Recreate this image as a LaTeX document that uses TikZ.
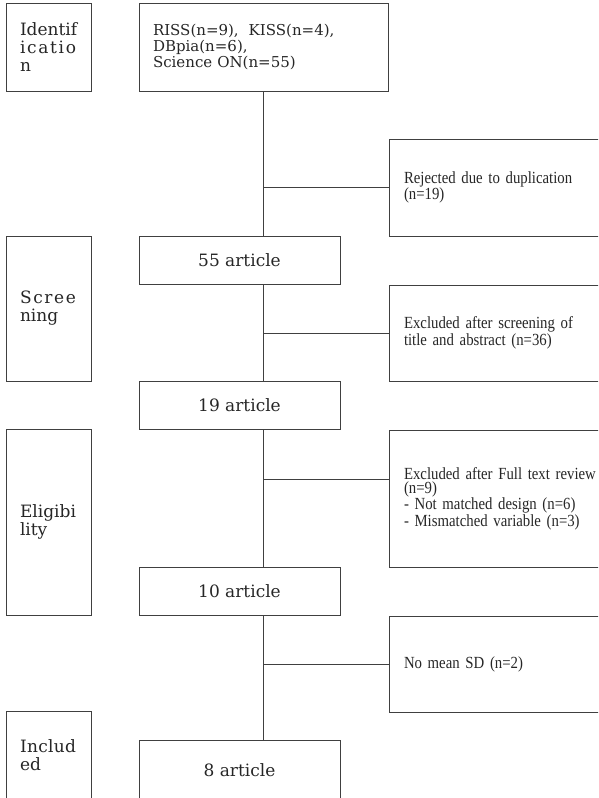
\documentclass[tikz,border=0pt]{standalone}
\usepackage{fontspec}
\usepackage{tikz}
\usetikzlibrary{positioning}
\newfontfamily\boxfont{DejaVu Serif}
\newfontfamily\notefont[FakeStretch=0.87]{Liberation Serif}
\makeatletter
\newcommand{\spreadword}[1]{\leavevmode\hbox to 56pt{\let\gapfill\relax\@tfor\ltr:=#1\do{\gapfill\ltr\let\gapfill\hfil}}}
\makeatother

\begin{document}
\begin{tikzpicture}[
    link/.style={draw=black!75, line width=1pt},
    stagebox/.style={link, text=black!85, minimum width=85pt, text width=57pt, inner xsep=14pt, align=left, font=\boxfont\fontsize{17}{18}\selectfont},
    articlebox/.style={link, text=black!85, minimum width=201pt, minimum height=48pt, align=center, font=\boxfont\fontsize{17}{18}\selectfont},
    notebox/.style={link, text=black!85, minimum width=230pt, text width=200pt, inner xsep=15pt, align=left, font=\notefont\fontsize{17}{14}\selectfont}]
  \useasboundingbox (0,0) rectangle (598pt,-798pt);
  \clip (0,0) rectangle (598pt,-798pt);
  % main column
  \node[articlebox, minimum width=249pt, minimum height=88pt, text width=221pt, inner xsep=14pt, align=left, font=\boxfont\fontsize{15}{16}\selectfont] (src) at (263.5pt,-47pt) {RISS(n=9),~ KISS(n=4),\\DBpia(n=6),\\Science ON(n=55)};
  \node[articlebox, below=144pt of src.south west, anchor=north west] (a55) {55 article};
  \node[articlebox, below=96pt of a55] (a19) {19 article};
  \node[articlebox, below=137pt of a19] (a10) {10 article};
  \node[articlebox, minimum height=60pt, below=124pt of a10] (a8) {8 article};
  % stages
  \node[stagebox, minimum height=88pt, left=47pt of src] (ident) {\spreadword{Identif}\\\spreadword{icatio}\\n};
  \node[stagebox, minimum height=145pt, below=144pt of ident.south west, anchor=north west] (screen) {\spreadword{Scree}\\ning};
  \node[stagebox, minimum height=186pt, below=47pt of screen.south west, anchor=north west] (elig) {\spreadword{Eligibi}\\lity};
  \node[stagebox, minimum height=89pt, below=95pt of elig.south west, anchor=north west] (incl) {\spreadword{Includ}\\ed};
  % excluded records
  \node[notebox, minimum height=97pt, below=47pt of src.south east, anchor=north west] (dup) {Rejected due to duplication\\(n=19)};
  \node[notebox, minimum height=96pt, below=48pt of dup.south west, anchor=north west] (scr) {Excluded after screening of\\title and abstract (n=36)};
  \node[notebox, minimum height=137pt, below=48pt of scr.south west, anchor=north west] (full) {Excluded after Full text review\\(n=9)\\- Not matched design (n=6)\\- Mismatched variable (n=3)};
  \node[notebox, minimum height=96pt, below=48pt of full.south west, anchor=north west] (nosd) {No mean SD (n=2)};
  \coordinate (fullin) at ([yshift=19.5pt]full.west);
  % trunk
  \draw[link] (src.south) -- (src.south |- a55.north);
  \draw[link] (src.south |- a55.south) -- (src.south |- a19.north);
  \draw[link] (src.south |- a19.south) -- (src.south |- a10.north);
  \draw[link] (src.south |- a10.south) -- (src.south |- a8.north);
  % branches
  \draw[link] (dup.west) -- (dup.west -| src.south);
  \draw[link] (scr.west) -- (scr.west -| src.south);
  \draw[link] (fullin) -- (fullin -| src.south);
  \draw[link] (nosd.west) -- (nosd.west -| src.south);
\end{tikzpicture}
\end{document}
